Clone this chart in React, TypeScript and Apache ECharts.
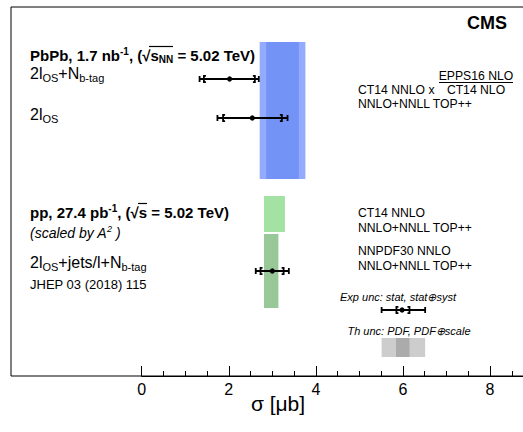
import React, { useEffect, useRef } from "react";
import * as echarts from "echarts";

// ---- measurements (sigma in microbarn) ----
const measNames = ["2lOS+Nb-tag (PbPb)", "2lOS (PbPb)", "2lOS+jets/l+Nb-tag (pp)", "legend sample"];
const measCentral = [2.02, 2.54, 3.0, 5.98];
const measStatLo = [1.43, 1.87, 2.73, 5.85];
const measStatHi = [2.6, 3.22, 3.26, 6.15];
const measTotLo = [1.33, 1.74, 2.62, 5.51];
const measTotHi = [2.69, 3.35, 3.38, 6.51];
// vertical row of each measurement (y-axis units, counted from the x axis)
const measRow = [297, 258, 105, 66];

// ---- theory bands ----
const bandNames = ["PbPb PDF+scale", "PbPb PDF", "pp CT14", "pp NNPDF30", "legend PDF+scale", "legend PDF"];
const bandLo = [2.71, 2.86, 2.81, 2.81, 5.51, 5.84];
const bandHi = [3.76, 3.61, 3.29, 3.14, 6.51, 6.15];
const bandBottom = [197, 197, 144, 68, 19, 19];
const bandTop = [334, 334, 180, 142, 38, 38];
const bandColors = ["#93abfd", "#7393f6", "#a4e2a4", "#98c798", "#cdcdcd", "#ababab"];

// ---- axis ----
const xTickLabels = [0, 2, 4, 6, 8];
const xMinFrame = -3;
const xMax = 9;

const F = '"Liberation Sans", Arial, Helvetica, sans-serif';
const CHART_W = 534;

function tok(size: number, opts: any = {}) {
  return {
    fontSize: size,
    fontFamily: F,
    fontWeight: opts.bold ? "bold" : "normal",
    fontStyle: opts.italic ? "italic" : "normal",
    fill: "#000",
    padding: opts.padding || [0, 0, 0, 0],
    verticalAlign: "middle",
  };
}

function txt(x: number, y: number, text: string, size: number, opts: any = {}) {
  const align = opts.align || "left";
  return {
    type: "text",
    x,
    y,
    silent: true,
    style: {
      text,
      fontSize: size,
      fontFamily: F,
      fontWeight: opts.bold ? "bold" : "normal",
      fontStyle: opts.italic ? "italic" : "normal",
      fill: "#000",
      align,
      textAlign: align,
      verticalAlign: "middle",
      textVerticalAlign: "middle",
      rich: opts.rich,
    },
  };
}

function hline(x1: number, x2: number, y: number, w = 1) {
  return { type: "line", silent: true, shape: { x1, y1: y, x2, y2: y }, style: { stroke: "#000", lineWidth: w } };
}

export default function App() {
  const ref = useRef<HTMLDivElement>(null);
  useEffect(() => {
    document.body.style.margin = "0";
    document.body.style.overflow = "hidden";
    const chart = echarts.init(ref.current!, undefined, { renderer: "svg" });

    const bandData = bandLo.map((lo, i) => [lo, bandHi[i], bandBottom[i], bandTop[i]]);
    const measData = measCentral.map((c, i) => [c, measStatLo[i], measStatHi[i], measTotLo[i], measTotHi[i], measRow[i]]);

    const headRich = (big: number, small: number) => ({
      b: tok(big, { bold: true }),
      sup: tok(small, { bold: true, padding: [0, 0, 8, 0] }),
      sub: tok(small, { bold: true, padding: [8, 0, 0, 0] }),
    });
    const lblRich = {
      m: tok(16),
      s: tok(11, { padding: [9, 0, 0, 0] }),
    };

    // 0 at x=141.65 px, 43.55 px per unit
    const left0 = 141.65;
    const k = 43.55;
    const rightPx = CHART_W - (left0 + xMax * k);

    const option: any = {
      animation: false,
      grid: [
        { left: left0 + xMinFrame * k, right: rightPx, top: 7, bottom: 56, show: true, borderColor: "#000", borderWidth: 1, backgroundColor: "transparent" },
        { left: left0, right: rightPx, top: 7, bottom: 56, show: false },
      ],
      xAxis: [
        { type: "value", gridIndex: 0, min: xMinFrame, max: xMax, show: false },
        {
          type: "value",
          gridIndex: 1,
          min: 0,
          max: xMax,
          interval: 2,
          axisLine: { show: true, lineStyle: { color: "#000", width: 1 } },
          splitLine: { show: false },
          axisTick: { show: true, inside: true, length: 10, lineStyle: { color: "#000", width: 1 } },
          minorTick: { show: true, splitNumber: 4, length: 5, lineStyle: { color: "#000", width: 1 } },
          axisLabel: {
            color: "#000",
            fontSize: 16,
            fontFamily: F,
            margin: 5,
            showMaxLabel: false,
            formatter: (v: number) => (xTickLabels.indexOf(v) >= 0 ? String(v) : ""),
          },
        },
      ],
      yAxis: [
        { type: "value", gridIndex: 0, min: 0, max: 369, show: false },
        { type: "value", gridIndex: 1, min: 0, max: 369, show: false },
      ],
      series: [
        {
          type: "custom",
          name: "theory bands",
          xAxisIndex: 0,
          yAxisIndex: 0,
          encode: { x: [0, 1], y: [2, 3] },
          data: bandData,
          renderItem: (params: any, api: any) => {
            const p1 = api.coord([api.value(0), api.value(3)]);
            const p2 = api.coord([api.value(1), api.value(2)]);
            return {
              type: "rect",
              shape: { x: p1[0], y: p1[1], width: p2[0] - p1[0], height: p2[1] - p1[1] },
              style: { fill: bandColors[params.dataIndex] },
            };
          },
          z: 1,
        },
        {
          type: "custom",
          name: "measurements",
          xAxisIndex: 0,
          yAxisIndex: 0,
          encode: { x: [0, 1, 2, 3, 4], y: 5 },
          data: measData,
          renderItem: (params: any, api: any) => {
            const y = api.value(5);
            const px = (v: number) => api.coord([v, y])[0];
            const yy = api.coord([api.value(0), y])[1];
            const c = px(api.value(0));
            const sl = px(api.value(1));
            const sh = px(api.value(2));
            const tl = px(api.value(3));
            const th = px(api.value(4));
            const ls = { stroke: "#000", lineWidth: 1.8, fill: "none" };
            const capH = 3;
            const bh = 3.2;
            const bw = 2;
            return {
              type: "group",
              children: [
                { type: "line", shape: { x1: tl, y1: yy, x2: th, y2: yy }, style: ls },
                { type: "line", shape: { x1: tl, y1: yy - capH, x2: tl, y2: yy + capH }, style: ls },
                { type: "line", shape: { x1: th, y1: yy - capH, x2: th, y2: yy + capH }, style: ls },
                { type: "polyline", shape: { points: [[sl + bw, yy - bh], [sl, yy - bh], [sl, yy + bh], [sl + bw, yy + bh]] }, style: ls },
                { type: "polyline", shape: { points: [[sh - bw, yy - bh], [sh, yy - bh], [sh, yy + bh], [sh - bw, yy + bh]] }, style: ls },
                { type: "circle", shape: { cx: c, cy: yy, r: 2.6 }, style: { fill: "#000" } },
              ],
            };
          },
          z: 5,
        },
      ],
      graphic: [
        txt(507, 23, "CMS", 18, { bold: true, align: "right" }),
        txt(30, 55, "{b|PbPb, 1.7 nb}{sup|-1}{b|, (√s}{sub|NN}{b| = 5.02 TeV)}", 15, { bold: true, rich: headRich(15, 10) }),
        hline(149, 173, 46.5, 1.2),
        txt(30, 73, "{m|2l}{s|OS}{m|+N}{s|b-tag}", 16, { rich: lblRich }),
        txt(30, 114, "{m|2l}{s|OS}", 16, { rich: lblRich }),
        txt(30, 212, "{b|pp, 27.4 pb}{sup|-1}{b|, (√s = 5.02 TeV)}", 15, { bold: true, rich: headRich(15, 10) }),
        hline(138, 147, 203.5, 1.2),
        txt(30, 233, "{i|(scaled by A}{isup|2}{i| )}", 14, {
          italic: true,
          rich: { i: tok(14, { italic: true }), isup: tok(9, { italic: true, padding: [0, 0, 8, 0] }) },
        }),
        txt(30, 262, "{m|2l}{s|OS}{m|+jets/l+N}{s|b-tag}", 16, { rich: lblRich }),
        txt(30, 284, "JHEP 03 (2018) 115", 13),
        txt(358, 90, "CT14 NNLO x", 12.2),
        txt(476, 75.5, "EPPS16 NLO", 12.2, { align: "center" }),
        hline(439, 513, 82.5, 1),
        txt(476, 90, "CT14 NLO", 12.2, { align: "center" }),
        txt(358, 104, "NNLO+NNLL TOP++", 12.2),
        txt(358, 213, "CT14 NNLO", 12.2),
        txt(358, 228, "NNLO+NNLL TOP++", 12.2),
        txt(358, 251, "NNPDF30 NNLO", 12.2),
        txt(358, 266, "NNLO+NNLL TOP++", 12.2),
        txt(398, 297, "Exp unc: stat, stat⊕syst", 11, { italic: true, align: "center" }),
        txt(409, 331, "Th unc: PDF, PDF⊕scale", 11, { italic: true, align: "center" }),
        txt(278, 403, "σ [μb]", 21, { align: "center" }),
      ],
    };
    chart.setOption(option);
    return () => chart.dispose();
  }, []);
  return (
    <div style={{ width: 523, height: 432, overflow: "hidden", position: "relative" }}>
      <div ref={ref} style={{ width: CHART_W, height: 432 }} />
    </div>
  );
}
